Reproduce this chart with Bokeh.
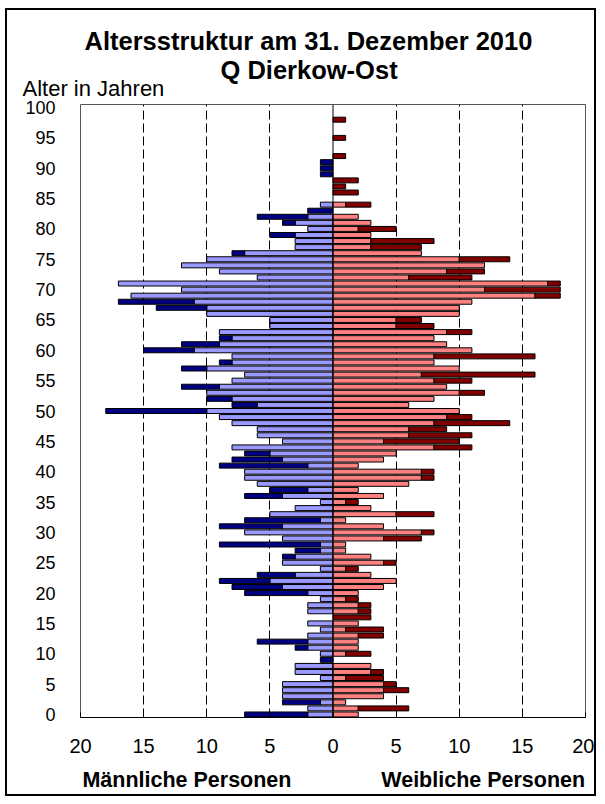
from bokeh.plotting import figure
from bokeh.models import Range1d, FixedTicker, Span, Title, LinearAxis
from bokeh.embed import file_html
from bokeh.resources import INLINE

# ---- data (age 0 .. 100) ----
ages = list(range(101))
male_light = [2, 2, 1, 4, 4, 4, 1, 3, 3, 0, 1, 2, 2, 2, 1, 2, 0, 2, 2, 1,
              2, 4, 5, 3, 1, 4, 3, 1, 1, 4, 7, 4, 1, 5, 3, 1, 4, 2, 6, 7,
              7, 2, 4, 5, 8, 4, 6, 6, 8, 9, 10, 6, 8, 10, 9, 8, 7, 10, 8, 8,
              11, 9, 8, 9, 5, 5, 10, 10, 11, 16, 12, 17, 6, 9, 12, 10, 7, 3, 3, 3,
              2, 3, 2, 0, 1, 0, 0, 0, 0, 0, 0, 0, 0, 0, 0, 0, 0, 0, 0, 0, 0]
male_dark = [5, 0, 3, 0, 0, 0, 0, 0, 0, 1, 0, 1, 4, 0, 0, 0, 0, 0, 0, 0,
             5, 4, 4, 3, 0, 0, 1, 2, 8, 0, 0, 5, 6, 0, 0, 0, 3, 3, 0, 0,
             0, 7, 4, 2, 0, 0, 0, 0, 0, 0, 8, 2, 2, 0, 3, 0, 0, 2, 1, 0,
             4, 3, 1, 0, 0, 0, 0, 4, 6, 0, 0, 0, 0, 0, 0, 0, 1, 0, 0, 2,
             0, 1, 4, 2, 0, 0, 0, 0, 0, 1, 1, 1, 0, 0, 0, 0, 0, 0, 0, 0, 0]
female_light = [2, 2, 1, 4, 4, 4, 1, 3, 3, 0, 1, 2, 2, 2, 1, 2, 0, 2, 2, 1,
                2, 4, 5, 3, 1, 4, 3, 1, 1, 4, 7, 4, 1, 5, 3, 1, 4, 2, 6, 7,
                7, 2, 4, 5, 8, 4, 6, 6, 8, 9, 10, 6, 8, 10, 9, 8, 7, 10, 8, 8,
                11, 9, 8, 9, 5, 5, 10, 10, 11, 16, 12, 17, 6, 9, 12, 10, 7, 3, 3, 3,
                2, 3, 2, 0, 1, 0, 0, 0, 0, 0, 0, 0, 0, 0, 0, 0, 0, 0, 0, 0, 0]
female_dark = [0, 4, 0, 0, 2, 1, 3, 1, 0, 0, 2, 0, 0, 2, 3, 0, 3, 1, 1, 1,
               0, 0, 0, 0, 1, 1, 0, 0, 0, 3, 1, 0, 0, 3, 0, 1, 0, 0, 0, 1,
               1, 0, 0, 0, 3, 6, 5, 3, 6, 2, 0, 0, 0, 2, 0, 3, 9, 0, 0, 8,
               0, 0, 0, 2, 3, 2, 0, 0, 0, 2, 6, 1, 5, 3, 0, 4, 0, 4, 5, 0,
               3, 0, 0, 0, 2, 0, 2, 1, 2, 0, 0, 0, 1, 0, 0, 1, 0, 0, 1, 0, 0]

x_ticks = [-20, -15, -10, -5, 0, 5, 10, 15, 20]
x_tick_labels = [str(abs(t)) for t in x_ticks]
grid_ticks = [-15, -10, -5, 5, 10, 15]
y_ticks = list(range(0, 101, 5))

title1 = "Altersstruktur am 31. Dezember 2010"
title2 = "Q  Dierkow-Ost"
y_title = "Alter in Jahren"
side_titles = ["Männliche Personen", "Weibliche Personen"]
side_title_pos = [-11.57, 11.9]

C_ML, C_MD = "#9999FF", "#000080"
C_FL, C_FD = "#FF8080", "#800000"
FONT = "Liberation Sans"

p = figure(width=591, height=788, output_backend="svg", toolbar_location=None,
           x_range=Range1d(-20, 20), y_range=Range1d(-0.5, 100.5),
           min_border_left=73, min_border_right=13,
           min_border_top=94, min_border_bottom=81, title=None)
p.styles = {"border": "2px solid black", "margin-left": "5px", "margin-top": "8px"}
p.background_fill_color = "white"
p.border_fill_color = "white"
p.outline_line_color = "#555555"
p.outline_line_width = 1

# grid
p.ygrid.visible = False
p.xgrid.ticker = FixedTicker(ticks=grid_ticks)
p.xgrid.grid_line_color = "black"
p.xgrid.grid_line_dash = "9 4"
p.xgrid.grid_line_width = 1

# axes
p.xaxis.ticker = FixedTicker(ticks=x_ticks)
p.xaxis.major_label_overrides = {t: l for t, l in zip(x_ticks, x_tick_labels)}
p.xaxis.major_tick_in = 5
p.xaxis.major_tick_out = 0
p.xaxis.minor_tick_line_color = None
p.xaxis.axis_line_color = "black"
p.xaxis.major_tick_line_color = "black"
p.xaxis.major_label_text_font = FONT
p.xaxis.major_label_text_font_size = "20px"
p.xaxis.major_label_text_color = "black"
p.xaxis.major_label_standoff = 21

p.yaxis.ticker = FixedTicker(ticks=y_ticks)
p.yaxis.major_tick_in = 0
p.yaxis.major_tick_out = 0
p.yaxis.minor_tick_line_color = None
p.yaxis.axis_line_color = None
p.yaxis.major_label_text_font = FONT
p.yaxis.major_label_text_font_size = "18px"
p.yaxis.major_label_text_color = "black"
p.yaxis.major_label_standoff = 25

# bottom side titles as an extra axis
ax2 = LinearAxis(ticker=FixedTicker(ticks=side_title_pos),
                 major_label_overrides={t: s for t, s in zip(side_title_pos, side_titles)})
ax2.axis_line_color = None
ax2.major_tick_line_color = None
ax2.minor_tick_line_color = None
ax2.major_tick_in = 0
ax2.major_tick_out = 0
ax2.major_label_standoff = 12
ax2.major_label_text_font = FONT
ax2.major_label_text_font_size = "21.5px"
ax2.major_label_text_font_style = "bold"
ax2.major_label_text_color = "black"
p.add_layout(ax2, "below")

# bars
def bars(ys, left, right, color):
    yy, ll, rr = [], [], []
    for y, l, r in zip(ys, left, right):
        if l != r:
            yy.append(y); ll.append(l); rr.append(r)
    p.hbar(y=yy, left=ll, right=rr, height=0.82, fill_color=color,
           line_color="black", line_width=1)

ml_left = [-v for v in male_light]
md_left = [-(a + b) for a, b in zip(male_light, male_dark)]
fd_right = [a + b for a, b in zip(female_light, female_dark)]
zeros = [0] * len(ages)

bars(ages, ml_left, zeros, C_ML)
bars(ages, md_left, ml_left, C_MD)
bars(ages, zeros, female_light, C_FL)
bars(ages, female_light, fd_right, C_FD)

p.add_layout(Span(location=0, dimension="height", line_color="black", line_width=1))

# titles (first added = closest to the frame)
p.add_layout(Title(text=y_title, align="left", offset=-58, standoff=7,
                   text_font=FONT, text_font_size="22px", text_font_style="normal",
                   text_color="black"), "above")
p.add_layout(Title(text=title2, align="left", offset=140, standoff=-27,
                   text_font=FONT, text_font_size="25.5px", text_font_style="bold",
                   text_color="black"), "above")
p.add_layout(Title(text=title1, align="left", offset=4, standoff=26,
                   text_font=FONT, text_font_size="25.5px", text_font_style="bold",
                   text_color="black"), "above")

open("out.html", "w").write(file_html(p, INLINE))
